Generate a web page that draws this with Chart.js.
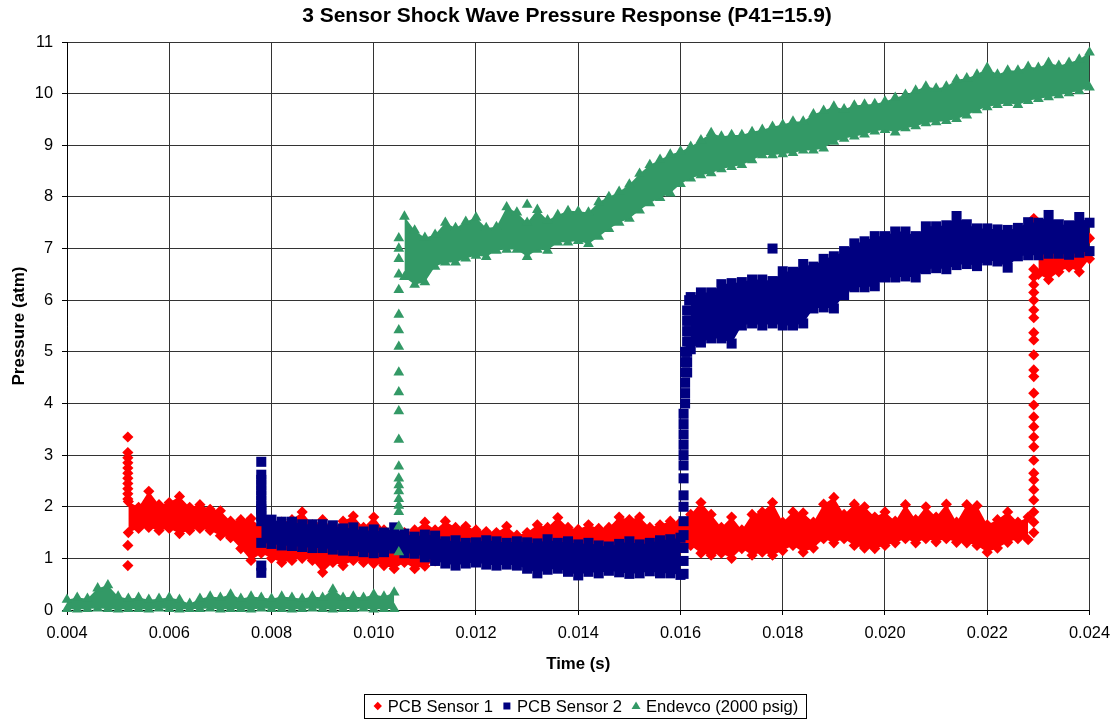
<!DOCTYPE html>
<html>
<head>
<meta charset="utf-8">
<script src="https://cdn.jsdelivr.net/npm/chart.js@4.4.1/dist/chart.umd.min.js"></script>
<style>
html,body{margin:0;padding:0;background:#fff;}
#wrap{width:1119px;height:721px;position:relative;}
</style>
</head>
<body>
<div id="wrap"><canvas id="c" width="1119" height="721"></canvas></div>
<script>
// ---------- text ----------
const TITLE = '3 Sensor Shock Wave Pressure Response (P41=15.9)';
const X_TITLE = 'Time (s)';
const Y_TITLE = 'Pressure (atm)';
const LEGEND_LABELS = ['PCB Sensor 1', 'PCB Sensor 2', 'Endevco (2000 psig)'];

// ---------- ticks ----------
const xTicks = [0.004, 0.006, 0.008, 0.010, 0.012, 0.014, 0.016, 0.018, 0.020, 0.022, 0.024];
const yTicks = [0, 1, 2, 3, 4, 5, 6, 7, 8, 9, 10, 11];

// sample spacing (s) of the envelope samples
const STEP = 0.0002;

// ---------- PCB Sensor 1 (red) ----------
const redStart = 0.0052;
const redUpper = [2.1,1.99,2.3,2.04,2.08,2.2,1.99,2.04,1.95,1.92,1.72,1.75,1.77,1.6,1.6,1.7,1.75,1.9,1.65,1.75,1.6,1.72,1.82,1.6,1.8,
  1.55,1.5,1.5,1.55,1.7,1.55,1.72,1.6,1.62,1.55,1.52,1.5,1.62,1.45,1.5,1.65,1.6,1.79,1.6,1.56,1.65,1.58,1.6,1.8,1.75,
  1.8,1.6,1.65,1.72,1.7,1.85,2.08,1.85,1.6,1.8,1.55,1.85,1.9,2.08,1.7,1.9,1.88,1.7,2.05,2.18,1.85,2.05,2.0,1.8,1.9,
  1.72,2.04,1.75,2.0,1.8,2.05,1.7,2.04,2.02,1.65,1.75,1.9,1.7,1.8];
const redLower = [1.5,1.58,1.6,1.54,1.58,1.48,1.54,1.58,1.54,1.44,1.4,1.19,0.96,1.1,1.0,0.92,0.96,1.0,0.96,0.73,0.92,0.86,0.96,0.92,0.9,
  0.86,0.8,0.92,0.8,0.85,0.95,0.95,0.98,1.0,0.98,1.0,0.95,1.0,1.0,1.02,0.98,1.0,1.05,1.02,1.05,1.0,1.05,1.08,1.05,1.1,
  1.05,1.1,1.08,1.1,1.2,1.25,1.1,1.06,1.1,1.0,1.19,1.06,1.12,1.06,1.15,1.25,1.12,1.2,1.38,1.3,1.38,1.25,1.2,1.19,1.25,
  1.3,1.38,1.3,1.38,1.32,1.38,1.31,1.3,1.25,1.12,1.2,1.31,1.38,1.36];
const redSpikeTime = 0.00519;
const redSpike = [0.86,1.25,2.15,2.25,2.35,2.45,2.55,2.65,2.75,2.85,2.95,3.05,3.35];
const redJumpTime = 0.02291;
const redJump = [1.5,1.7,1.9,2.13,2.33,2.52,2.65,2.9,3.16,3.35,3.55,3.74,3.97,4.2,4.52,4.65,4.94,5.23,5.37,5.66,5.81,6.0,6.15,6.3,6.45,6.6,7.58];
const redHighStart = 0.0230;
const redHighUpper = [7.2,7.0,7.1,7.0,7.3,7.2];
const redHighLower = [6.5,6.4,6.55,6.64,6.55,6.8];

// ---------- PCB Sensor 2 (blue) ----------
const blueStart1 = 0.0078;
const blueUpper1 = [1.95,1.75,1.71,1.71,1.66,1.66,1.66,1.64,1.58,1.6,1.52,1.56,1.5,1.6,1.48,1.42,1.46,1.44,1.33,1.35,1.3,1.31,1.35,1.33,1.3,
  1.33,1.31,1.29,1.37,1.3,1.33,1.27,1.3,1.25,1.23,1.28,1.33,1.27,1.3,1.35,1.37,1.4];
const blueLower1 = [1.3,1.28,1.25,1.24,1.22,1.2,1.2,1.17,1.15,1.14,1.12,1.1,1.12,1.19,1.1,1.09,1.02,0.95,0.9,0.86,0.9,0.92,0.88,0.86,0.88,
  0.86,0.8,0.71,0.78,0.8,0.74,0.67,0.74,0.71,0.76,0.73,0.7,0.71,0.75,0.71,0.71,0.68];
const blueSpikeTime = 0.0078;
const blueSpike = [0.72,0.86,1.72,1.82,1.92,2.02,2.12,2.22,2.32,2.42,2.52,2.62,2.87];
const blueRiseTimes = [0.01606,0.01606,0.01606,0.01606,0.01606,0.01606,0.01606,0.01606,0.01606,0.01606,0.01606,0.01606,0.01606,0.01606,
  0.01609,0.01609,0.01609,0.01609,0.01609,0.01609,
  0.01613,0.01613,0.01613,0.01613,0.01613,0.01613,0.01613,
  0.01617,0.01617,0.01617,0.01617,0.01617];
const blueRiseValues = [0.7,0.95,1.2,1.45,1.72,2.0,2.22,2.55,2.8,3.0,3.2,3.4,3.6,3.8,
  4.0,4.2,4.4,4.6,4.8,5.0,
  4.6,4.8,5.0,5.2,5.4,5.6,5.8,
  5.2,5.4,5.6,5.8,6.0];
const blueStart2 = 0.0162;
const blueUpper2 = [6.06,6.15,6.15,6.31,6.33,6.35,6.4,6.4,6.37,6.56,6.55,6.7,6.65,6.8,6.85,6.95,7.1,7.14,7.24,7.24,
  7.33,7.33,7.24,7.43,7.43,7.45,7.63,7.47,7.39,7.39,7.37,7.36,7.4,7.51,7.5,7.65,7.47,7.45,7.61,7.5];
const blueLower2 = [5.05,5.18,5.26,5.26,5.16,5.51,5.55,5.51,5.55,5.51,5.51,5.55,5.84,5.86,5.84,6.1,6.25,6.25,6.27,6.44,
  6.44,6.46,6.44,6.6,6.62,6.6,6.68,6.7,6.66,6.77,6.75,6.63,6.85,6.87,6.87,6.9,6.9,6.88,6.92,6.95];
const blueOutlierTimes = [0.0178];
const blueOutlierValues = [7.0];

// ---------- Endevco (green) ----------
const greenStart1 = 0.0040;
const greenUpper1 = [0.2,0.24,0.22,0.42,0.48,0.26,0.22,0.24,0.2,0.22,0.24,0.2,0.12,0.22,0.26,0.24,0.3,0.22,0.26,0.24,
  0.22,0.26,0.24,0.22,0.26,0.24,0.4,0.24,0.26,0.24,0.3,0.26,0.34];
const greenLower1 = [0.02,0.01,0.02,0.03,0.02,0.01,0.02,0.02,0.01,0.03,0.02,0.01,0.02,0.02,0.03,0.01,0.02,0.02,0.01,0.03,
  0.02,0.02,0.01,0.02,0.03,0.02,0.01,0.02,0.02,0.03,0.01,0.02,0.02];
const greenJumpTime = 0.01049;
const greenJump = [1.12,1.62,1.9,2.02,2.15,2.3,2.42,2.55,2.78,3.3,3.85,4.22,4.6,5.1,5.42,5.72,6.2,6.5,6.8,7.0,7.2];
const greenStart2 = 0.0106;
const greenUpper2 = [7.62,7.35,7.21,7.27,7.5,7.4,7.52,7.6,7.4,7.42,
  7.8,7.7,7.5,7.75,7.55,7.65,7.73,7.72,7.7,7.9,
  8.0,8.1,8.24,8.45,8.62,8.72,8.82,8.88,8.97,9.1,
  9.24,9.17,9.2,9.2,9.26,9.3,9.36,9.4,9.46,9.46,
  9.6,9.67,9.75,9.7,9.77,9.79,9.8,9.85,9.92,9.98,
  10.06,10.14,10.1,10.14,10.27,10.3,10.37,10.5,10.37,10.45,
  10.45,10.52,10.5,10.6,10.54,10.6,10.66,10.8];
const greenLower2 = [6.45,6.3,6.35,6.65,6.73,6.73,6.81,6.86,6.84,6.96,
  6.98,6.98,6.84,6.98,6.96,7.12,7.12,7.15,7.09,7.23,
  7.38,7.5,7.58,7.74,7.88,7.98,8.07,8.25,8.36,8.42,
  8.46,8.54,8.58,8.62,8.71,8.81,8.81,8.83,8.85,8.9,
  8.9,8.94,9.07,9.13,9.17,9.21,9.27,9.3,9.25,9.33,
  9.37,9.43,9.45,9.47,9.51,9.58,9.68,9.74,9.78,9.82,
  9.78,9.86,9.9,9.93,9.97,10.01,10.05,10.12];
const greenOutlierTimes = [0.0130];
const greenOutlierValues = [7.85];

// ---------- styling ----------
const RED = '#FF0000', BLUE = '#000080', GREEN = '#339966';
const FONT = '"Liberation Sans", Arial, Helvetica, sans-serif';
const PLOT = {left: 67, top: 42, right: 1093, bottom: 610};
const R_RED = 5.6, R_BLUE = 7.1, R_GREEN = 6.2;

const sampled = (t0, vals) => vals.map((v, i) => ({x: t0 + i * STEP, y: v}));
const atTime = (t, vals) => vals.map(v => ({x: t, y: v}));
const paired = (ts, vals) => vals.map((v, i) => ({x: ts[i], y: v}));

function base(color, style, r, order) {
  return {
    type: 'line', showLine: true, borderWidth: 0, borderColor: color, backgroundColor: color,
    pointStyle: style, pointRadius: r, pointHoverRadius: r, pointBorderWidth: 0,
    pointBackgroundColor: color, clip: false, tension: 0, order: order, fill: false
  };
}
function band(label, color, style, r, order, t0, up, lo) {
  return [
    Object.assign(base(color, style, r, order), {label: label, data: sampled(t0, up), fill: '+1'}),
    Object.assign(base(color, style, r, order), {label: label + ' (lower)', data: sampled(t0, lo)})
  ];
}
function marks(label, color, style, r, order, data) {
  return Object.assign(base(color, style, r, order), {label: label, data: data});
}

const datasets = [
  ...band('PCB Sensor 1', RED, 'rectRot', R_RED, 3, redStart, redUpper, redLower),
  ...band('PCB Sensor 1 b', RED, 'rectRot', R_RED, 3, redHighStart, redHighUpper, redHighLower),
  marks('PCB Sensor 1 c', RED, 'rectRot', R_RED, 3, atTime(redSpikeTime, redSpike).concat(atTime(redJumpTime, redJump))),
  ...band('PCB Sensor 2', BLUE, 'rect', R_BLUE, 2, blueStart1, blueUpper1, blueLower1),
  ...band('PCB Sensor 2 b', BLUE, 'rect', R_BLUE, 2, blueStart2, blueUpper2, blueLower2),
  marks('PCB Sensor 2 c', BLUE, 'rect', R_BLUE, 2, atTime(blueSpikeTime, blueSpike)
        .concat(paired(blueRiseTimes, blueRiseValues)).concat(paired(blueOutlierTimes, blueOutlierValues))),
  ...band('Endevco (2000 psig)', GREEN, 'triangle', R_GREEN, 1, greenStart1, greenUpper1, greenLower1),
  ...band('Endevco b', GREEN, 'triangle', R_GREEN, 1, greenStart2, greenUpper2, greenLower2),
  marks('Endevco c', GREEN, 'triangle', R_GREEN, 1, atTime(greenJumpTime, greenJump)
        .concat(paired(greenOutlierTimes, greenOutlierValues)))
];

// title + boxed legend drawn as canvas text
const overlay = {
  id: 'overlay',
  afterDraw(chart) {
    const ctx = chart.ctx;
    ctx.save();
    ctx.fillStyle = '#000';
    ctx.textAlign = 'center';
    ctx.textBaseline = 'middle';
    ctx.font = 'bold 21px ' + FONT;
    ctx.fillText(TITLE, 567, 16);

    ctx.font = '16.6px ' + FONT;
    const colors = [RED, BLUE, GREEN];
    const widths = LEGEND_LABELS.map(l => ctx.measureText(l).width);
    const markW = 14, gap = 10;
    const total = widths.reduce((a, w) => a + markW + w, 0) + gap * (LEGEND_LABELS.length - 1);
    let x = 586 - total / 2;
    const y = 706;
    ctx.strokeStyle = '#000';
    ctx.lineWidth = 1;
    ctx.strokeRect(Math.round(x - 10) + 0.5, 694.5, Math.round(total + 18), 24);
    LEGEND_LABELS.forEach((l, i) => {
      const cx = x + 4, s = 4.2;
      ctx.fillStyle = colors[i];
      ctx.beginPath();
      if (i === 0) { ctx.moveTo(cx, y - s); ctx.lineTo(cx + s, y); ctx.lineTo(cx, y + s); ctx.lineTo(cx - s, y); }
      else if (i === 1) { ctx.rect(cx - 3.5, y - 3.5, 7, 7); }
      else { ctx.moveTo(cx, y - 4.5); ctx.lineTo(cx + 4.5, y + 3); ctx.lineTo(cx - 4.5, y + 3); }
      ctx.closePath();
      ctx.fill();
      ctx.fillStyle = '#000';
      ctx.textAlign = 'left';
      ctx.fillText(l, x + markW, y + 1);
      x += markW + widths[i] + gap;
    });
    ctx.restore();
  }
};

new Chart(document.getElementById('c'), {
  type: 'line',
  data: {datasets: datasets},
  options: {
    responsive: false, animation: false, devicePixelRatio: 1, events: [],
    layout: {padding: {top: PLOT.top, left: 0, right: 1119 - PLOT.right, bottom: 40}},
    plugins: {legend: {display: false}, title: {display: false}, tooltip: {enabled: false}},
    scales: {
      x: {
        type: 'linear', min: xTicks[0], max: xTicks[xTicks.length - 1],
        afterBuildTicks: s => { s.ticks = xTicks.map(v => ({value: v})); },
        afterFit: s => { s.height = 721 - 40 - PLOT.bottom; },
        ticks: {callback: v => v.toFixed(3), font: {family: FONT, size: 16.4}, color: '#000', padding: 9, maxRotation: 0, autoSkip: false},
        grid: {color: '#333', lineWidth: 1, tickLength: 5, tickColor: '#000'},
        border: {color: '#000', width: 1},
        title: {display: true, text: X_TITLE, color: '#000', font: {family: FONT, size: 16.8, weight: 'bold'}, padding: {top: 0, bottom: 7}}
      },
      y: {
        type: 'linear', min: yTicks[0], max: yTicks[yTicks.length - 1],
        afterBuildTicks: s => { s.ticks = yTicks.map(v => ({value: v})); },
        afterFit: s => { s.width = PLOT.left; },
        ticks: {callback: v => String(v), font: {family: FONT, size: 16.4}, color: '#000', padding: 9},
        grid: {color: '#333', lineWidth: 1, tickLength: 5, tickColor: '#000'},
        border: {color: '#000', width: 1},
        title: {display: true, text: Y_TITLE, color: '#000', font: {family: FONT, size: 17, weight: 'bold'}, padding: {top: 9, bottom: 0}}
      }
    }
  },
  plugins: [overlay]
});
</script>
</body>
</html>
